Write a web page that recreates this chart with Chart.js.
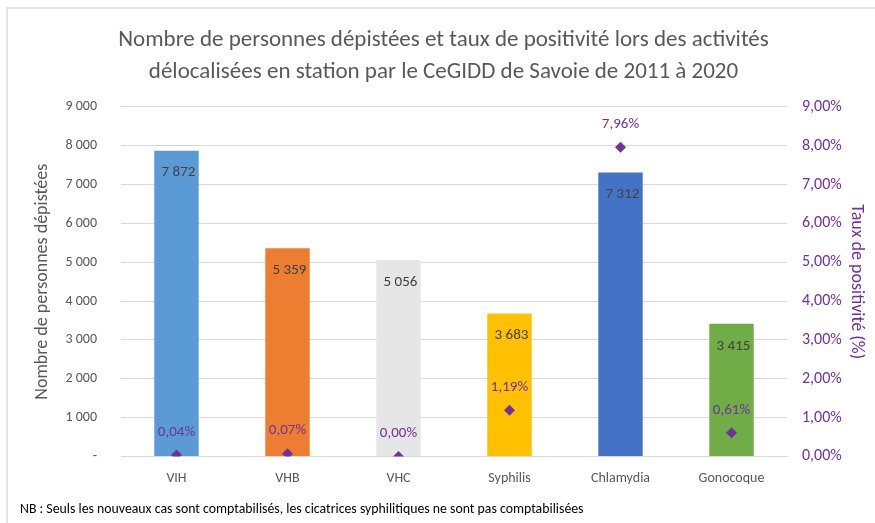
<!DOCTYPE html>
<html><head><meta charset="utf-8">
<script src="https://cdn.jsdelivr.net/npm/chart.js@4/dist/chart.umd.min.js"></script>
<style>
html,body{margin:0;padding:0;background:#fff;}
#wrap{position:relative;width:875px;height:523px;}
#frame{position:absolute;left:6px;top:7px;right:0;bottom:0;border-left:2px solid #e3e3e3;border-top:2px solid #e3e3e3;pointer-events:none;}
canvas{position:absolute;left:0;top:0;}
</style></head>
<body><div id="wrap"><canvas id="c" width="875" height="523"></canvas><div id="frame"></div></div>
<script>
const categories = ['VIH','VHB','VHC','Syphilis','Chlamydia','Gonocoque'];
const screened = [7872, 5359, 5056, 3683, 7312, 3415];
const positivity = [0.04, 0.07, 0.00, 1.19, 7.96, 0.61];
const barColors = ['#5B9BD5','#ED7D31','#E7E6E6','#FFC000','#4472C4','#70AD47'];
const titleLines = ['Nombre de personnes dépistées et taux de positivité lors des activités','délocalisées en station par le CeGIDD de Savoie de 2011 à 2020'];
const footnote = 'NB : Seuls les nouveaux cas sont comptabilisés, les cicatrices syphilitiques ne sont pas comptabilisées';

const FONT = "Carlito, Calibri, 'Liberation Sans Narrow', 'Liberation Sans', sans-serif";
const GREY = '#595959';
const PURPLE = '#7030A0';

function fmtThousands(v){ return String(Math.round(v)).replace(/\B(?=(\d{3})+(?!\d))/g,' '); }
function fmtPct(v){ return v.toFixed(2).replace('.',',') + '%'; }

const labelPlugin = {
  id:'labels',
  afterDatasetsDraw(chart){
    const ctx = chart.ctx;
    ctx.save();
    ctx.font = '15px ' + FONT;
    ctx.textAlign = 'center';
    ctx.textBaseline = 'middle';
    chart.getDatasetMeta(0).data.forEach((el,i)=>{
      ctx.fillStyle = '#404040';
      ctx.fillText(fmtThousands(screened[i]), el.x + 2, el.y + 22);
    });
    chart.getDatasetMeta(1).data.forEach((el,i)=>{
      ctx.fillStyle = PURPLE;
      ctx.fillText(fmtPct(positivity[i]), el.x, el.y - 23);
    });
    ctx.restore();
  }
};

new Chart(document.getElementById('c'), {
  data:{
    labels: categories,
    datasets:[
      {type:'bar', label:'Nombre de personnes dépistées', data: screened, backgroundColor: barColors, yAxisID:'y', order:2,
       categoryPercentage:0.4, barPercentage:1.0},
      {type:'line', label:'Taux de positivité', data: positivity, yAxisID:'y1', showLine:false, order:1,
       pointStyle:'rectRot', pointRadius:5.5, pointHoverRadius:5.5, backgroundColor:PURPLE, borderColor:PURPLE, borderWidth:0}
    ]
  },
  options:{
    responsive:false, animation:false, devicePixelRatio:1,
    layout:{padding:{left:20,right:8,top:3,bottom:0}},
    plugins:{
      legend:{display:false}, tooltip:{enabled:false},
      title:{display:true, text:titleLines, color:GREY, font:{family:FONT,size:23,weight:'normal',lineHeight:1.39}, padding:{top:21,bottom:19}},
      subtitle:{display:true, text:footnote, position:'bottom', align:'start', color:'#000', font:{family:FONT,size:13.8,weight:'normal'}, padding:{top:0,bottom:5}}
    },
    scales:{
      x:{grid:{display:false, drawTicks:false}, border:{display:true,color:'#d9d9d9',width:1},
         ticks:{color:GREY, font:{family:FONT,size:14}, padding:14},
         afterFit(s){ s.height = 45; }},
      y:{position:'left', min:0, max:9000, grid:{color:'#d9d9d9', drawTicks:false}, border:{display:false},
         ticks:{stepSize:1000, color:GREY, font:{family:FONT,size:14}, padding:24,
           callback:(v)=> v===0 ? '-' : fmtThousands(v)},
         title:{display:true, text:'Nombre de personnes dépistées', color:GREY, font:{family:FONT,size:18}, padding:{top:12,bottom:0}},
         afterFit(s){ s.width = 101; }},
      y1:{position:'right', min:0, max:9, grid:{display:false, drawTicks:false}, border:{display:false},
         ticks:{stepSize:1, color:PURPLE, font:{family:FONT,size:16}, padding:15, callback:(v)=> fmtPct(v)},
         title:{display:true, text:'Taux de positivité (%)', color:PURPLE, font:{family:FONT,size:18}, padding:{top:0,bottom:0}},
         afterFit(s){ s.width = 80; }}
    }
  },
  plugins:[labelPlugin]
});
</script></body></html>
